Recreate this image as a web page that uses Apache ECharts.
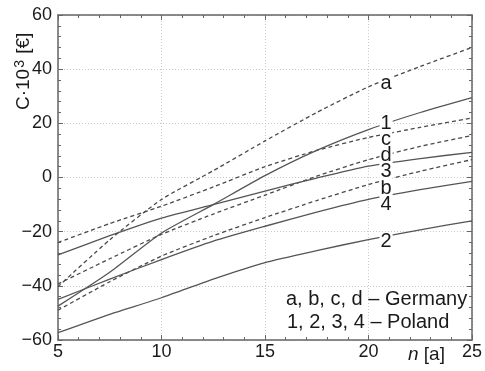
<!DOCTYPE html>
<html>
<head>
<meta charset="utf-8">
<script src="https://cdn.jsdelivr.net/npm/echarts@6/dist/echarts.min.js"></script>
<style>
  html, body { margin: 0; padding: 0; background: #fff; }
  #chart { width: 485px; height: 371px; }
</style>
</head>
<body>
<div id="chart"></div>
<script>
(function() {
  // 年限 n [a]
  const years = [5, 7.5, 10, 12.5, 15, 17.5, 20, 22.5, 25];
  // Germany (dashed)
  const germanyA = [-40.3, -23, -8.1, 2.5, 13.5, 24, 33.5, 41, 48];
  const germanyB = [-49, -38.5, -29, -21.5, -14.8, -8.5, -2.6, 2.3, 6.6];
  const germanyC = [-24, -17, -10.6, -3.5, 4, 10, 14.8, 18.5, 22];
  const germanyD = [-39.3, -30, -21, -13.5, -6.5, 0.5, 6.6, 11.5, 15.5];
  // Poland (solid)
  const poland1 = [-47.5, -35, -20.5, -10, 0.7, 10, 17.7, 24, 29.5];
  const poland2 = [-57.3, -50.5, -44.4, -37.5, -31.4, -27, -22.9, -19.3, -16];
  const poland3 = [-28.6, -21.5, -15, -10, -5, -0.2, 4.2, 7, 9.3];
  const poland4 = [-45, -37.5, -30.3, -23.5, -18, -12.8, -8.1, -4.5, -1.4];

  const xTicks = [5, 10, 15, 20, 25];
  const yTicks = [-60, -40, -20, 0, 20, 40, 60];

  const curves = [
    { name: 'a', values: germanyA, dashed: true },
    { name: 'b', values: germanyB, dashed: true },
    { name: 'c', values: germanyC, dashed: true },
    { name: 'd', values: germanyD, dashed: true },
    { name: '1', values: poland1, dashed: false },
    { name: '2', values: poland2, dashed: false },
    { name: '3', values: poland3, dashed: false },
    { name: '4', values: poland4, dashed: false }
  ];

  // where the curve letters sit (n) and small vertical nudges
  const labelAt = 20.85;
  const labelShift = { a: -1.5, b: -3, c: -2, d: -0.3, '1': 0, '2': -2, '3': -3, '4': -3 };

  const font = 'Liberation Sans, Arial, sans-serif';
  const ink = '#1a1a1a';
  const frame = '#666';

  function valueAt(vals, n) {
    for (let i = 0; i < years.length - 1; i++) {
      if (n >= years[i] && n <= years[i + 1]) {
        const t = (n - years[i]) / (years[i + 1] - years[i]);
        return vals[i] + t * (vals[i + 1] - vals[i]);
      }
    }
    return vals[vals.length - 1];
  }

  const fmtNum = function(v) {
    return v < 0 ? '\u2212' + Math.abs(v) : String(v);
  };

  const lineSeries = curves.map(function(c) {
    return {
      type: 'line',
      name: c.name,
      data: years.map(function(n, i) { return [n, c.values[i]]; }),
      symbol: 'none',
      smooth: 0.2,
      lineStyle: {
        color: c.dashed ? '#4a4a4a' : '#555',
        width: 1.3,
        type: c.dashed ? [4, 3] : 'solid'
      },
      silent: true,
      z: 2
    };
  });

  const labelSeries = {
    type: 'scatter',
    symbolSize: 0,
    itemStyle: { color: '#fff', opacity: 1 },
    silent: true,
    z: 10,
    data: curves.map(function(c) {
      return { value: [labelAt, valueAt(c.values, labelAt) + labelShift[c.name]], name: c.name };
    }),
    label: {
      show: true,
      position: 'inside',
      formatter: '{b}',
      color: ink,
      opacity: 1,
      fontFamily: font,
      fontSize: 20,
      backgroundColor: '#fff',
      padding: [0, 1, 0, 1],
      lineHeight: 17
    },
    labelLayout: { hideOverlap: false }
  };

  const baseX = {
    type: 'value',
    min: xTicks[0],
    max: xTicks[xTicks.length - 1],
    interval: 5,
    axisLine: { show: true, onZero: false, lineStyle: { color: frame, width: 1.5 } },
    axisTick: { show: true, inside: true, length: 5, lineStyle: { color: frame } },
    minorTick: { show: true, splitNumber: 5, length: 3, lineStyle: { color: frame } },
    splitLine: { show: false }
  };
  const baseY = {
    type: 'value',
    min: yTicks[0],
    max: yTicks[yTicks.length - 1],
    interval: 20,
    axisLine: { show: true, onZero: false, lineStyle: { color: frame, width: 1.5 } },
    axisTick: { show: true, inside: true, length: 5, lineStyle: { color: frame } },
    minorTick: { show: true, splitNumber: 5, length: 3, lineStyle: { color: frame } },
    splitLine: { show: false }
  };

  const chart = echarts.init(document.getElementById('chart'));
  const option = {
    animation: false,
    backgroundColor: '#fff',
    grid: { left: 58, right: 12, top: 15, bottom: 31 },
    xAxis: [
      Object.assign({}, baseX, {
        position: 'bottom',
        axisLabel: { color: ink, fontFamily: font, fontSize: 18, margin: 3 },
        splitLine: { show: true, lineStyle: { color: '#c8c8c8', type: [1, 2], width: 1 } }
      }),
      Object.assign({}, baseX, { position: 'top', axisLabel: { show: false } })
    ],
    yAxis: [
      Object.assign({}, baseY, {
        position: 'left',
        axisLabel: { color: ink, fontFamily: font, fontSize: 18, margin: 6, formatter: fmtNum },
        splitLine: { show: true, lineStyle: { color: '#c8c8c8', type: [1, 2], width: 1 } }
      }),
      Object.assign({}, baseY, { position: 'right', axisLabel: { show: false } })
    ],
    series: lineSeries.concat([labelSeries]),
    graphic: [
      {
        type: 'text',
        x: 13,
        y: 110,
        rotation: Math.PI / 2,
        style: {
          text: '{n|C\u00b710}{s|3}{n| [\u20ac]}',
          fill: ink,
          font: '19px ' + font,
          textAlign: 'left',
          textVerticalAlign: 'top',
          rich: {
            n: { fontSize: 19, fontFamily: font, fill: ink, lineHeight: 22 },
            s: { fontSize: 14, fontFamily: font, fill: ink, lineHeight: 22, padding: [0, 1, 8, 1] }
          }
        }
      },
      {
        type: 'text',
        x: 408,
        y: 345,
        style: {
          text: '{i|n} [a]',
          fill: ink,
          font: '19px ' + font,
          rich: {
            i: { fontStyle: 'italic', fontSize: 19, fontFamily: font, fill: ink }
          }
        }
      },
      {
        type: 'text',
        x: 286,
        y: 289,
        style: {
          text: 'a, b, c, d \u2013 Germany',
          fill: ink,
          font: '20px ' + font
        }
      },
      {
        type: 'text',
        x: 287,
        y: 312,
        style: {
          text: '1, 2, 3, 4 \u2013 Poland',
          fill: ink,
          font: '20px ' + font
        }
      }
    ]
  };
  chart.setOption(option);
}());
</script>
</body>
</html>
